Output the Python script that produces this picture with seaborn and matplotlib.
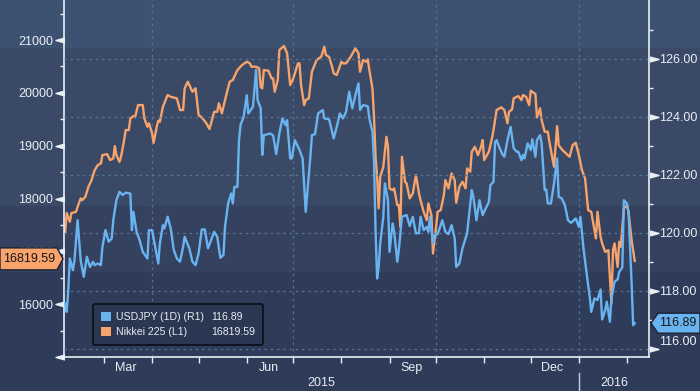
import numpy as np
import pandas as pd
import matplotlib
matplotlib.use("Agg")
import matplotlib.pyplot as plt
import matplotlib.dates as mdates
import matplotlib.transforms as mtransforms
from matplotlib.patches import Patch, Polygon, Rectangle
import seaborn as sns

# ---------------- data ----------------
BASE_DATE = "2015-02-01"   # day 0 of the day offsets below

nikkei_days = [3, 4, 6, 7, 10, 11, 13, 14, 16, 18, 20, 22, 24, 26, 27, 30, 32, 34, 35, 36,
               38, 39, 41, 42, 44, 45, 47, 48, 50, 53, 54, 56, 57, 59, 60, 62, 63, 64, 66, 69,
               71, 75, 77, 79, 80, 82, 84, 85, 87, 89, 91, 94, 96, 99, 101, 102, 104, 106, 109, 111,
               114, 117, 120, 122, 123, 126, 128, 129, 130, 131, 134, 136, 137, 138, 140, 141, 144, 146, 148, 150,
               153, 154, 155, 157, 158, 160, 162, 165, 168, 170, 171, 173, 175, 176, 178, 181, 182, 184, 187, 190,
               192, 193, 195, 197, 198, 199, 201, 202, 203, 204, 205, 206, 208, 210, 211, 212, 214, 215, 217, 218,
               219, 220, 222, 223, 225, 227, 229, 231, 232, 234, 236, 237, 239, 240, 242, 243, 245, 247, 248, 250,
               252, 254, 255, 257, 259, 261, 262, 264, 265, 267, 269, 271, 272, 273, 276, 278, 279, 281, 284, 286,
               288, 289, 291, 292, 295, 297, 298, 300, 302, 303, 306, 307, 309, 310, 312, 314, 315, 316, 318, 320,
               321, 323, 328, 330, 332, 334, 336, 338, 340, 342, 345, 346, 348, 349, 351, 353, 354, 355, 356, 357,
               359, 360, 361, 363, 365, 366, 368, 370]
nikkei_vals = [17370, 17724, 17559, 17724, 17748, 17843, 18002, 17970, 18033, 18222, 18349, 18538, 18633, 18665, 18822, 18841, 18728, 18760, 18993, 18822,
               18695, 18790, 19106, 19296, 19296, 19517, 19561, 19536, 19769, 19769, 19517, 19358, 19423, 19233, 19055, 19358, 19472, 19453, 19737, 19959,
               19926, 19896, 19675, 19675, 20086, 20211, 20086, 20021, 20086, 19580, 19536, 19423, 19315, 19642, 19642, 19801, 19612, 19864, 20211, 20243,
               20432, 20527, 20589, 20559, 20495, 20495, 20464, 20116, 20086, 20432, 20419, 20275, 20275, 20021, 20243, 20811, 20887, 20749, 20148, 20275,
               20559, 20559, 20148, 19769, 19864, 19896, 20400, 20622, 20684, 20874, 20716, 20684, 20495, 20370, 20338, 20589, 20559, 20559, 20684, 20843,
               20749, 20400, 20622, 20589, 20635, 20432, 20086, 19548, 18790, 18411, 17813, 18411, 18601, 19169, 18979, 18192, 18159, 18192, 17875, 17875,
               17464, 18790, 18317, 18286, 18002, 18097, 18443, 18097, 17970, 17748, 17591, 17907, 17686, 16960, 17464, 17748, 17781, 18065, 18349, 18192,
               18476, 18349, 17919, 18222, 18317, 18192, 18570, 18506, 18885, 18980, 18822, 18980, 19106, 18728, 18885, 19139, 19296, 19675, 19726, 19675,
               19423, 19642, 19688, 19896, 19940, 19864, 19959, 19926, 19769, 20040, 19978, 19536, 19707, 19485, 19264, 19264, 19074, 18917, 18601, 19372,
               19012, 18930, 18790, 19012, 19055, 18822, 18538, 18381, 17781, 17748, 17244, 17748, 17275, 17150, 16991, 17023, 16517, 16013, 17023, 17150,
               16707, 17180, 17086, 17813, 17875, 17748, 17212, 16819.59]

usdjpy_days = [3, 4, 5, 6, 8, 9, 11, 13, 15, 17, 19, 21, 22, 24, 26, 27, 29, 31, 33, 34,
               36, 38, 40, 42, 45, 46, 47, 49, 51, 53, 56, 57, 59, 61, 63, 64, 66, 67, 69, 71,
               73, 75, 77, 79, 80, 83, 85, 87, 89, 91, 93, 95, 97, 99, 101, 103, 105, 106, 108, 110,
               111, 112, 114, 115, 116, 118, 120, 121, 124, 126, 127, 129, 130, 131, 135, 137, 139, 141, 143, 145,
               146, 148, 149, 151, 154, 156, 158, 159, 161, 162, 164, 166, 169, 170, 173, 174, 176, 178, 180, 182,
               184, 186, 188, 190, 192, 193, 195, 198, 199, 201, 202, 203, 204, 205, 206, 208, 209, 211, 212, 214,
               215, 217, 218, 220, 223, 225, 227, 229, 231, 232, 234, 236, 237, 238, 240, 241, 243, 246, 248, 250,
               252, 254, 255, 257, 259, 261, 262, 265, 266, 268, 270, 272, 274, 276, 277, 279, 280, 281, 283, 285,
               286, 288, 290, 292, 294, 295, 297, 298, 299, 301, 303, 304, 306, 307, 309, 310, 312, 313, 314, 316,
               318, 320, 321, 323, 325, 327, 329, 332, 334, 335, 337, 339, 341, 342, 344, 346, 348, 349, 351, 352,
               354, 355, 357, 359, 360, 362, 363, 365, 366, 367, 368, 369, 370]
usdjpy_vals = [117.57, 117.28, 118.03, 119.12, 118.72, 119.06, 120.44, 119.06, 118.49, 119.18, 118.83, 119.01, 118.89, 118.95, 118.89, 119.52, 120.10, 119.70, 119.81, 120.44,
               121.13, 121.42, 121.31, 121.39, 121.36, 120.10, 120.73, 120.04, 119.75, 119.35, 119.12, 120.10, 120.10, 119.52, 118.95, 119.64, 120.27, 120.16, 120.56, 120.16,
               119.41, 119.12, 119.01, 119.52, 119.87, 119.47, 119.01, 118.89, 119.30, 120.12, 120.12, 119.47, 119.75, 120.04, 119.87, 119.14, 119.24, 120.21, 121.02, 121.36,
               121.02, 121.59, 121.59, 123.20, 123.72, 124.01, 124.75, 124.12, 124.35, 125.62, 124.58, 124.30, 122.69, 123.37, 123.43, 123.37, 122.72, 123.43, 123.95, 123.72,
               123.89, 122.57, 122.57, 123.20, 122.86, 122.57, 120.73, 121.36, 122.63, 123.37, 123.41, 124.12, 124.24, 123.95, 123.92, 123.72, 123.26, 123.66, 124.12, 123.95,
               124.18, 124.87, 124.30, 124.75, 125.16, 124.24, 124.41, 124.37, 123.95, 123.49, 122.51, 120.10, 118.43, 118.83, 119.64, 120.56, 121.71, 121.13, 119.35, 120.33,
               120.04, 119.01, 119.41, 120.56, 120.62, 120.24, 120.56, 119.99, 119.99, 120.56, 120.10, 120.21, 120.04, 120.56, 119.64, 119.93, 119.96, 120.44, 120.04, 119.96,
               120.27, 119.81, 118.83, 118.95, 119.47, 119.81, 119.99, 121.48, 121.25, 120.44, 121.13, 120.62, 120.85, 121.07, 121.65, 121.76, 123.14, 123.20, 122.92, 122.69,
               122.63, 123.20, 123.66, 122.92, 122.80, 122.80, 122.51, 122.69, 122.57, 123.09, 122.86, 123.23, 122.63, 123.20, 123.37, 123.09, 121.48, 121.50, 121.02, 121.02,
               121.71, 122.57, 121.25, 121.19, 120.96, 120.44, 120.35, 120.50, 120.21, 120.56, 119.47, 118.61, 117.80, 117.28, 117.74, 117.69, 118.05, 117.02, 117.34, 117.63,
               116.94, 117.74, 118.32, 118.40, 118.66, 118.81, 121.13, 121.02, 120.73, 119.52, 118.26, 116.82, 116.89]

series_names = ["USDJPY (1D) (R1)", "Nikkei 225 (L1)"]
last_value_labels = ["116.89", "16819.59"]

left_ticks = [15000, 16000, 17000, 18000, 19000, 20000, 21000]
left_tick_labels = ["", "16000", "17000", "18000", "19000", "20000", "21000"]
left_minor_ticks = [15500, 16500, 17500, 18500, 19500, 20500, 21500]
right_ticks = [116, 118, 120, 122, 124, 126]
right_tick_labels = ["116.00", "118.00", "120.00", "122.00", "124.00", "126.00"]
right_minor_ticks = [117, 119, 121, 123, 125, 127]

month_labels = ["Mar", "Jun", "Sep", "Dec"]
month_label_dates = ["2015-03-15", "2015-06-15", "2015-09-15", "2015-12-15"]
quarter_dates = ["2015-04-01", "2015-07-01", "2015-10-01", "2016-01-01"]
year_labels = ["2015", "2016"]
year_boundary = "2016-01-01"

# ---------------- style ----------------
W, H = 700, 391
BLUE = "#6ab3f1"
ORANGE = "#f7a36b"
WHITE = "#e9eef5"
GRID = "#58728f"
FONT = ["Liberation Sans", "DejaVu Sans"]
plt.rcParams["font.family"] = FONT
TICK_FS = 9.0

base = pd.Timestamp(BASE_DATE)
nk = pd.DataFrame({"date": base + pd.to_timedelta(nikkei_days, unit="D"), "value": nikkei_vals})
uj = pd.DataFrame({"date": base + pd.to_timedelta(usdjpy_days, unit="D"), "value": usdjpy_vals})

fig = plt.figure(figsize=(W / 100, H / 100), dpi=100)
fig.patch.set_facecolor("#2e3b59")
bands = [(0, 48, "#3d5270"), (48, 206, "#3a4a66"), (206, 272, "#34425f"), (272, 391, "#2e3b59")]
for top, bot, c in bands:
    fig.add_artist(Rectangle((0, 1 - bot / H), 1, (bot - top) / H, transform=fig.transFigure,
                             facecolor=c, edgecolor="none", zorder=-10))

ax = fig.add_axes([64 / W, (H - 357) / H, (649 - 64) / W, 357 / H])
ax.patch.set_visible(False)
sns.lineplot(data=nk, x="date", y="value", ax=ax, color=ORANGE, linewidth=1.7)
ax2 = ax.twinx()
ax2.patch.set_visible(False)
sns.lineplot(data=uj, x="date", y="value", ax=ax2, color=BLUE, linewidth=1.7)

for a in (ax, ax2):
    a.set_xlabel("")
    a.set_ylabel("")

ax.set_xlim(base + pd.Timedelta(days=2.25), base + pd.Timedelta(days=379.2))
ax.set_ylim(15000, 21758)
ax2.set_ylim(115.724, 128.034)

# spines
for s in ["top", "right"]:
    ax.spines[s].set_visible(False)
for s in ["left", "bottom"]:
    ax.spines[s].set_color(WHITE)
    ax.spines[s].set_linewidth(1.2)
for s in ["top", "left", "bottom"]:
    ax2.spines[s].set_visible(False)
ax2.spines["right"].set_color(WHITE)
ax2.spines["right"].set_linewidth(1.2)

# x axis
ax.set_xticks(pd.to_datetime(quarter_dates))
ax.xaxis.set_minor_locator(mdates.MonthLocator())
ax.set_xticklabels([])
ax.tick_params(axis="x", which="both", direction="out", length=4, width=1, colors=WHITE)
ax.xaxis.grid(True, which="major", color=GRID, linestyle=(0, (2, 3)), linewidth=0.9)
xt = ax.get_xaxis_transform()
for lab, d in zip(month_labels, month_label_dates):
    ax.text(pd.Timestamp(d), -0.031, lab, transform=xt, ha="center", va="center",
            fontsize=TICK_FS, color=WHITE)
xl = ax.get_xlim()
yb = mdates.date2num(pd.Timestamp(year_boundary))
ax.text((xl[0] + yb) / 2, -0.073, year_labels[0], transform=xt, ha="center", va="center",
        fontsize=TICK_FS, color=WHITE)
ax.text((yb + xl[1]) / 2, -0.073, year_labels[1], transform=xt, ha="center", va="center",
        fontsize=TICK_FS, color=WHITE)
ax.plot([yb, yb], [-0.045, -0.1], transform=xt, clip_on=False, color="#c9d1dc", lw=1)

# left y axis
ax.set_yticks(left_ticks)
ax.set_yticklabels(left_tick_labels)
ax.set_yticks(left_minor_ticks, minor=True)
ax.tick_params(axis="y", which="major", length=0, pad=8, labelsize=TICK_FS, labelcolor=WHITE)
ax.tick_params(axis="y", which="minor", length=3, width=1, color=WHITE, direction="out")
ax.yaxis.grid(False)
tri_l = [(1, 0.55), (-1, 0), (1, -0.55)]
tl = mtransforms.offset_copy(ax.get_yaxis_transform(), fig=fig, x=-4.5, y=0, units="dots")
ax.plot([0] * len(left_ticks), left_ticks, ls="none", marker=tri_l, ms=6.5, color=WHITE,
        transform=tl, clip_on=False)

# right y axis
ax2.set_yticks(right_ticks)
ax2.set_yticklabels(right_tick_labels)
ax2.set_yticks(right_minor_ticks, minor=True)
ax2.tick_params(axis="y", which="major", length=0, pad=7, labelsize=TICK_FS, labelcolor=WHITE)
ax2.tick_params(axis="y", which="minor", length=3, width=1, color=WHITE, direction="out")
ax2.yaxis.grid(True, which="major", color=GRID, linestyle=(0, (2, 3)), linewidth=0.9)
ax2.set_axisbelow(True)
tri_r = [(-1, 0.55), (1, 0), (-1, -0.55)]
tr = mtransforms.offset_copy(ax2.get_yaxis_transform(), fig=fig, x=4.5, y=0, units="dots")
ax2.plot([1] * len(right_ticks), right_ticks, ls="none", marker=tri_r, ms=6.5, color=WHITE,
         transform=tr, clip_on=False)
# lowest right label sits slightly above its tick, as in the reference
low_lab = ax2.yaxis.get_major_ticks()[0].label2
low_lab.set_transform(low_lab.get_transform() +
                      mtransforms.ScaledTranslation(0, 8 / 100, fig.dpi_scale_trans))

# last value boxes
def fig_y(axis, val):
    disp = axis.transData.transform((axis.get_xlim()[0], val))
    return disp[1] / fig.bbox.height

yo = fig_y(ax, nikkei_vals[-1]) + 2 / H
hh = 11 / H
fig.add_artist(Polygon([(0, yo - hh), (57 / W, yo - hh), (63 / W, yo), (57 / W, yo + hh), (0, yo + hh)],
                       closed=True, transform=fig.transFigure, facecolor=ORANGE,
                       edgecolor="#1c2233", lw=1, zorder=20))
fig.text(29 / W, yo, last_value_labels[1], ha="center", va="center", fontsize=TICK_FS,
         color="#161616", zorder=21)

yb2 = fig_y(ax2, usdjpy_vals[-1])
hb = 10 / H
fig.add_artist(Polygon([(651 / W, yb2), (658 / W, yb2 + hb), (1.0, yb2 + hb), (1.0, yb2 - hb), (658 / W, yb2 - hb)],
                       closed=True, transform=fig.transFigure, facecolor=BLUE,
                       edgecolor="#1c2233", lw=1, zorder=20))
fig.text(678 / W, yb2, last_value_labels[0], ha="center", va="center", fontsize=TICK_FS,
         color="#161616", zorder=21)

# legend
handles = [Patch(facecolor=BLUE, edgecolor="none"), Patch(facecolor=ORANGE, edgecolor="none"),
           Patch(facecolor="none", edgecolor="none"), Patch(facecolor="none", edgecolor="none")]
labels = [series_names[0], series_names[1], last_value_labels[0], last_value_labels[1]]
leg = ax2.legend(handles, labels, ncol=2, loc="upper left",
                 bbox_to_anchor=(93 / W, 1 - 304 / H), bbox_transform=fig.transFigure,
                 borderaxespad=0, frameon=True, fancybox=True,
                 facecolor="#2a3753", edgecolor="#0b0e16", framealpha=1,
                 handlelength=0.95, handleheight=0.95, handletextpad=0.5,
                 columnspacing=-0.8, labelspacing=0.42, borderpad=0.75,
                 prop={"family": FONT, "size": 7.6})
leg.get_frame().set_linewidth(1.2)
for t in leg.get_texts():
    t.set_color(WHITE)
leg.set_zorder(30)

fig.savefig("out.png", dpi=100, facecolor=fig.get_facecolor())
